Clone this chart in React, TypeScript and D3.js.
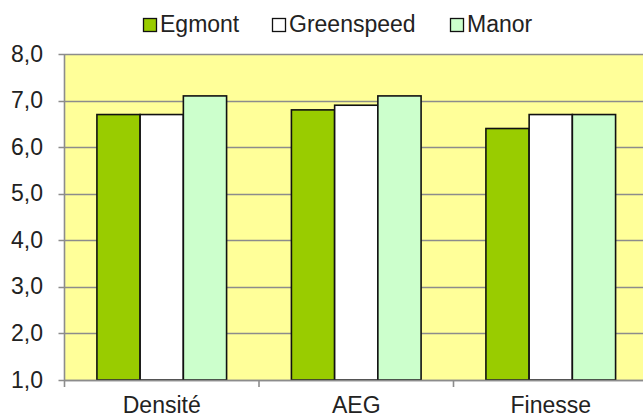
import React from "react";
import * as d3 from "d3";

const categories = ["Densité", "AEG", "Finesse"];
const seriesNames = ["Egmont", "Greenspeed", "Manor"];
const egmont = [6.7, 6.8, 6.4];
const greenspeed = [6.7, 6.9, 6.7];
const manor = [7.1, 7.1, 6.7];
const yTicks = [1, 2, 3, 4, 5, 6, 7, 8];

const colors = ["#99cc00", "#ffffff", "#ccffcc"];
const W = 643;
const H = 419;
const margin = { top: 54, left: 64.5, bottom: 380 };
const font = "'Liberation Sans', Arial, sans-serif";

export default function App() {
  const values = [egmont, greenspeed, manor];
  const catStep = 194.5;

  const x = d3
    .scaleBand()
    .domain(categories)
    .range([margin.left, margin.left + catStep * categories.length])
    .padding(0);

  // excel-like gap width of 150%
  const xs = d3
    .scaleBand()
    .domain(seriesNames)
    .range([0, x.bandwidth()])
    .paddingInner(0)
    .paddingOuter(0.75);

  const y = d3.scaleLinear().domain([1, 8]).range([margin.bottom, margin.top]);

  const plotRight = margin.left + catStep * categories.length;

  // legend positions
  const legendX = [143, 272, 450];

  return (
    <svg
      width={W}
      height={H}
      style={{ position: "absolute", left: 0, top: 0, background: "#fff" }}
      fontFamily={font}
    >
      <rect
        x={margin.left}
        y={margin.top}
        width={plotRight - margin.left}
        height={margin.bottom - margin.top}
        fill="#ffff99"
      />

      {/* gridlines */}
      {yTicks.map((t) => (
        <g key={t}>
          <line
            x1={margin.left - 6}
            x2={plotRight}
            y1={Math.round(y(t)) + 0.5}
            y2={Math.round(y(t)) + 0.5}
            stroke="#8c8c8c"
            strokeWidth={1.6}
          />
          <text
            x={43}
            y={y(t) + 7.5}
            textAnchor="end"
            fontSize={23}
            fill="#222"
          >
            {d3.format(".1f")(t).replace(".", ",")}
          </text>
        </g>
      ))}

      {/* bars */}
      {categories.map((c, ci) => (
        <g key={c} transform={`translate(${x(c)},0)`}>
          {seriesNames.map((s, si) => (
            <rect
              key={s}
              x={xs(s)}
              y={y(values[si][ci])}
              width={xs.bandwidth()}
              height={y(1) - y(values[si][ci])}
              fill={colors[si]}
              stroke="#111"
              strokeWidth={1.6}
            />
          ))}
        </g>
      ))}

      {/* y axis */}
      <line
        x1={margin.left}
        x2={margin.left}
        y1={margin.top}
        y2={margin.bottom}
        stroke="#8c8c8c"
        strokeWidth={1.6}
      />
      {/* x axis */}
      <line
        x1={margin.left}
        x2={plotRight}
        y1={margin.bottom + 0.5}
        y2={margin.bottom + 0.5}
        stroke="#8c8c8c"
        strokeWidth={1.6}
      />
      {categories.map((c) => (
        <line
          key={c}
          x1={x(c)}
          x2={x(c)}
          y1={margin.bottom}
          y2={margin.bottom + 7}
          stroke="#8c8c8c"
          strokeWidth={1.6}
        />
      ))}
      {categories.map((c) => (
        <text
          key={c}
          x={(x(c) || 0) + x.bandwidth() / 2}
          y={413}
          textAnchor="middle"
          fontSize={23}
          fill="#222"
        >
          {c}
        </text>
      ))}

      {/* legend */}
      {seriesNames.map((s, i) => (
        <g key={s}>
          <rect
            x={legendX[i] + 0.5}
            y={18.5}
            width={13}
            height={13}
            fill={colors[i]}
            stroke="#111"
            strokeWidth={1.3}
          />
          <text x={legendX[i] + 17} y={32} fontSize={23} fill="#222">
            {s}
          </text>
        </g>
      ))}
    </svg>
  );
}
